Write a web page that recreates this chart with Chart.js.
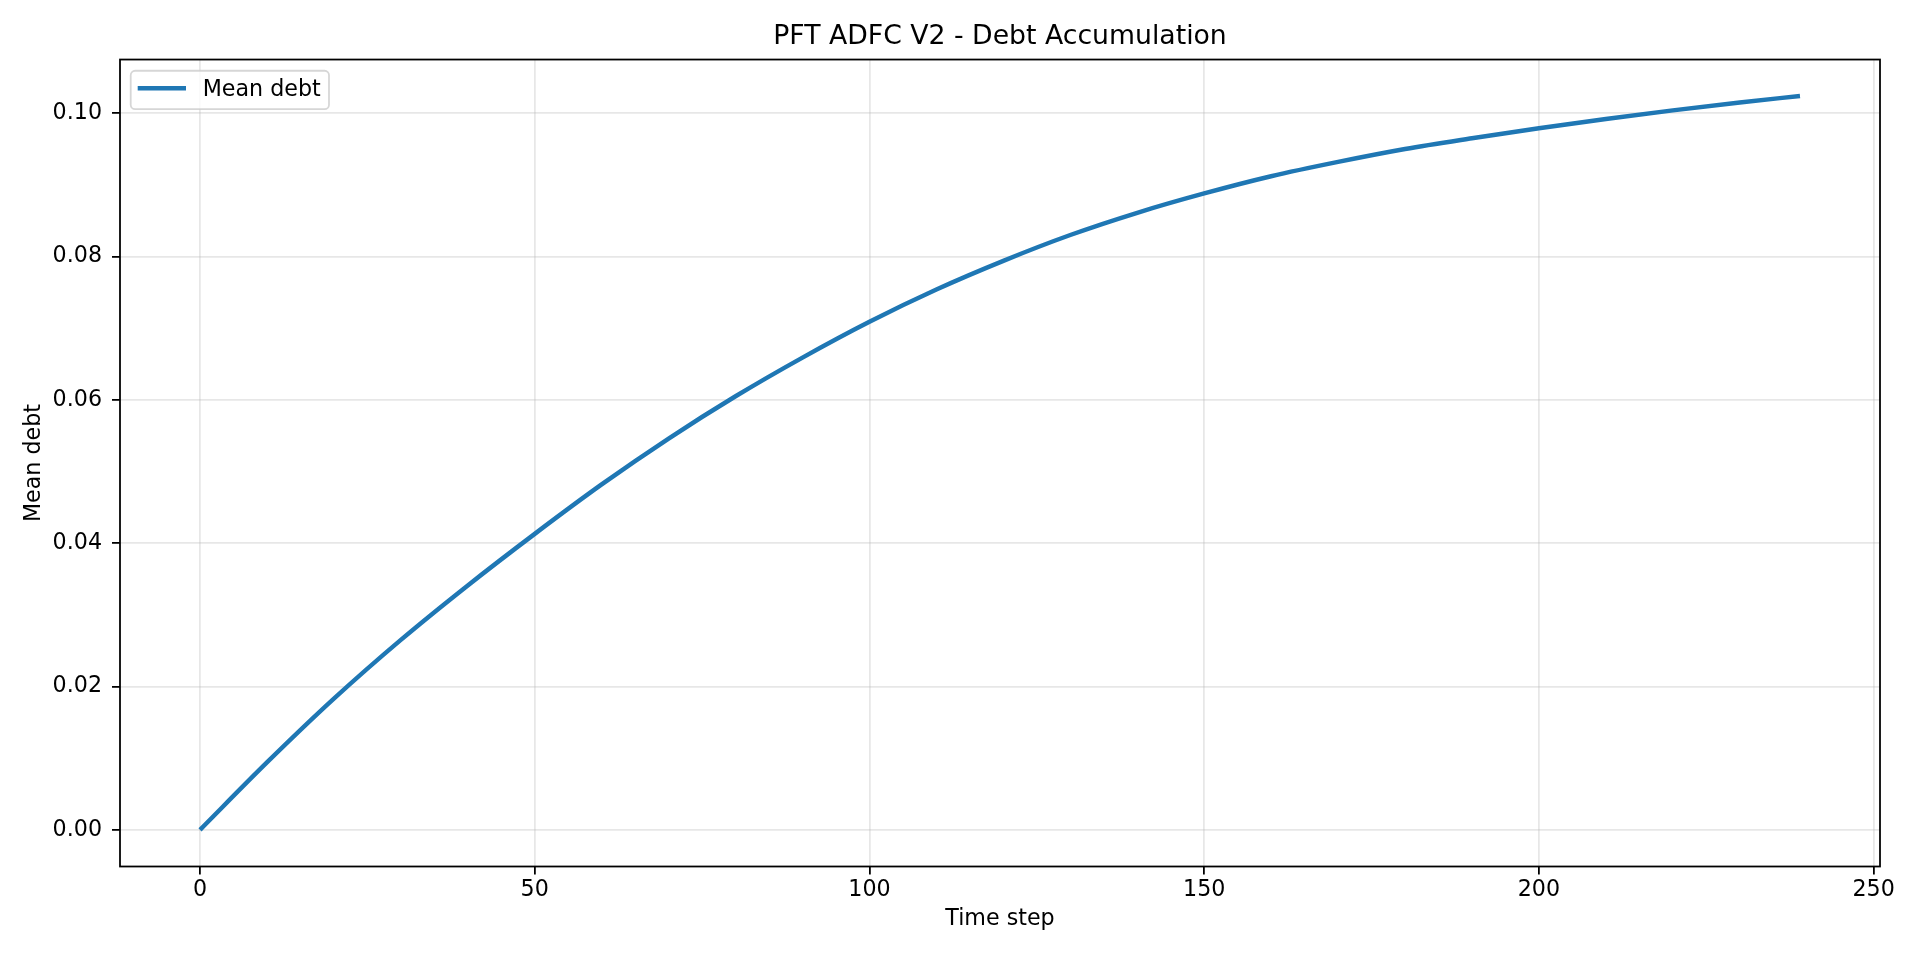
<!DOCTYPE html>
<html>
<head>
<meta charset="utf-8">
<title>PFT ADFC V2 - Debt Accumulation</title>
<script src="https://cdn.jsdelivr.net/npm/chart.js@4.4.1/dist/chart.umd.min.js"></script>
<style>
  html, body { margin: 0; padding: 0; background: #ffffff; }
  canvas { display: block; }
</style>
</head>
<body>
<canvas id="chart" width="1920" height="960"></canvas>
<script>
// ------------------------------------
// DATA
// ------------------------------------
const timeSteps = [0, 10, 20, 30, 40, 50, 60, 70, 80, 90, 100, 110, 120,
  130, 140, 150, 160, 170, 180, 190, 200, 210, 220, 230, 239];
const meanDebt = [0.0000, 0.0094, 0.0183, 0.0265, 0.0341, 0.0413, 0.0482,
  0.0546, 0.0605, 0.0659, 0.0709, 0.0754, 0.0794, 0.0830, 0.0861, 0.0888,
  0.0912, 0.0932, 0.0950, 0.0965, 0.0979, 0.0992, 0.1004, 0.1015, 0.1024];
const seriesName = "Mean debt";

const xTickValues = [0, 50, 100, 150, 200, 250];
const yTickValues = [0.00, 0.02, 0.04, 0.06, 0.08, 0.10];
const xLimits = [-11.95, 250.95];
const yLimits = [-0.00512, 0.10749];

const chartTitle = "PFT ADFC V2 - Debt Accumulation";
const xLabel = "Time step";
const yLabel = "Mean debt";

// ------------------------------------
// STYLE
// ------------------------------------
const FONT = "'DejaVu Sans', sans-serif";
const BLUE = "#1f77b4";
const GRID = "rgba(176,176,176,0.3)";
const LW = 1.78; // 0.8pt at 160 dpi

// frame round the plot area
const framePlugin = {
  id: "frame",
  afterDraw(chart) {
    const { ctx, chartArea: a } = chart;
    ctx.save();
    ctx.strokeStyle = "#000";
    ctx.lineWidth = LW;
    ctx.strokeRect(a.left, a.top, a.right - a.left, a.bottom - a.top);
    ctx.restore();
  },
};

// matplotlib-like legend box in the upper left corner
const legendPlugin = {
  id: "mplLegend",
  afterDraw(chart) {
    const { ctx, chartArea: a } = chart;
    const ds = chart.data.datasets[0];
    const x = a.left + 10.7, y = a.top + 11.2, w = 198.3, h = 38.3, r = 4.4;
    ctx.save();
    ctx.beginPath();
    ctx.moveTo(x + r, y);
    ctx.lineTo(x + w - r, y);
    ctx.arcTo(x + w, y, x + w, y + r, r);
    ctx.lineTo(x + w, y + h - r);
    ctx.arcTo(x + w, y + h, x + w - r, y + h, r);
    ctx.lineTo(x + r, y + h);
    ctx.arcTo(x, y + h, x, y + h - r, r);
    ctx.lineTo(x, y + r);
    ctx.arcTo(x, y, x + r, y, r);
    ctx.closePath();
    ctx.fillStyle = "rgba(255,255,255,0.8)";
    ctx.fill();
    ctx.strokeStyle = "rgba(204,204,204,0.8)";
    ctx.lineWidth = LW;
    ctx.stroke();

    ctx.beginPath();
    ctx.moveTo(x + 7, y + 17.5);
    ctx.lineTo(x + 55.3, y + 17.5);
    ctx.strokeStyle = ds.borderColor;
    ctx.lineWidth = ds.borderWidth;
    ctx.stroke();

    ctx.fillStyle = "#000";
    ctx.font = "22.2px " + FONT;
    ctx.textBaseline = "alphabetic";
    ctx.textAlign = "left";
    ctx.fillText(ds.label, x + 72, y + 25.6);
    ctx.restore();
  },
};

const ctx = document.getElementById("chart").getContext("2d");

window.myChart = new Chart(ctx, {
  type: "line",
  data: {
    datasets: [
      {
        label: seriesName,
        data: timeSteps.map((t, i) => ({ x: t, y: meanDebt[i] })),
        borderColor: BLUE,
        borderWidth: 4.44,
        pointRadius: 0,
        fill: false,
        cubicInterpolationMode: "monotone",
        borderCapStyle: "butt",
      },
    ],
  },
  options: {
    responsive: false,
    devicePixelRatio: 1,
    animation: false,
    layout: { padding: { top: 0, right: 40, bottom: 0, left: 0 } },
    plugins: {
      legend: { display: false },
      tooltip: { enabled: false },
      title: {
        display: true,
        text: chartTitle,
        fullSize: false,
        color: "#000",
        font: { family: FONT, size: 26.7, weight: "normal", lineHeight: 1.2 },
        padding: { top: 20.8, bottom: 6.7 },
      },
    },
    scales: {
      x: {
        type: "linear",
        min: xLimits[0],
        max: xLimits[1],
        afterBuildTicks: (s) => { s.ticks = xTickValues.map((v) => ({ value: v })); },
        afterFit: (s) => { s.height = 93.5; },
        border: { display: false },
        grid: {
          color: GRID,
          lineWidth: LW,
          drawTicks: true,
          tickLength: 8,
          tickColor: "#000",
          tickWidth: LW,
        },
        ticks: {
          color: "#000",
          padding: 2.5,
          maxRotation: 0,
          font: { family: FONT, size: 22.2 },
          callback: (v) => String(v),
        },
        title: {
          display: true,
          text: xLabel,
          color: "#000",
          font: { family: FONT, size: 22.2, lineHeight: 1.2 },
          padding: { top: 0, bottom: 27.7 },
        },
      },
      y: {
        type: "linear",
        min: yLimits[0],
        max: yLimits[1],
        afterBuildTicks: (s) => { s.ticks = yTickValues.map((v) => ({ value: v })); },
        afterFit: (s) => { s.width = 120; },
        border: { display: false },
        grid: {
          color: GRID,
          lineWidth: LW,
          drawTicks: true,
          tickLength: 8,
          tickColor: "#000",
          tickWidth: LW,
        },
        ticks: {
          color: "#000",
          padding: 10,
          font: { family: FONT, size: 22.2 },
          callback: (v) => Number(v).toFixed(2),
        },
        title: {
          display: true,
          text: yLabel,
          color: "#000",
          font: { family: FONT, size: 22.2, lineHeight: 1.2 },
          padding: { top: 21, bottom: 0 },
        },
      },
    },
  },
  plugins: [framePlugin, legendPlugin],
});
</script>
</body>
</html>
